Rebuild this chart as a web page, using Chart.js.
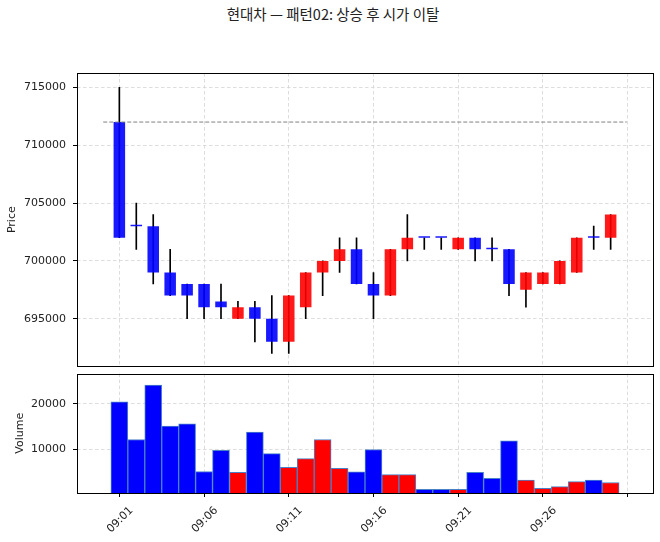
<!DOCTYPE html>
<html><head><meta charset="utf-8">
<script src="https://cdn.jsdelivr.net/npm/chart.js@4.4.0/dist/chart.umd.min.js"></script>
<style>
html,body{margin:0;padding:0;background:#fff;}
#wrap{position:relative;width:660px;height:542px;overflow:hidden;background:#fff;}
#title{position:absolute;left:0;width:666px;top:3px;text-align:center;font-family:'Noto Sans CJK KR','Noto Sans',sans-serif;font-size:14.5px;color:#222;}
#c1{position:absolute;left:0;top:0;}
#c2{position:absolute;left:0;top:360px;}
</style></head><body>
<div id="wrap">
<div id="title">현대차 — 패턴02: 상승 후 시가 이탈</div>
<canvas id="c1" width="660" height="380" style="width:660px;height:380px"></canvas>
<canvas id="c2" width="660" height="182" style="width:660px;height:182px"></canvas>
</div>
<script>
const times = ['09:01','09:02','09:03','09:04','09:05','09:06','09:07','09:08','09:09','09:10',
               '09:11','09:12','09:13','09:14','09:15','09:16','09:17','09:18','09:19','09:20',
               '09:21','09:22','09:23','09:24','09:25','09:26','09:27','09:28','09:29','09:30'];
const opens  = [712000,703000,703000,699000,698000,698000,696500,695000,696000,695000,
                693000,696000,699000,700000,701000,698000,697000,701000,702000,702000,
                701000,702000,701000,701000,697500,698000,698000,699000,702000,702000];
const highs  = [715000,705000,704000,701000,698000,698000,698000,696500,696500,697000,
                697000,699000,700000,702000,702000,699000,701000,704000,702000,702000,
                702000,702000,702000,701000,699000,699000,700000,702000,703000,704000];
const lows   = [702000,701000,698000,697000,695000,695000,695000,695000,693000,692000,
                692000,695000,697000,699000,698000,695000,697000,700000,701000,701000,
                701000,700000,700000,697000,696000,698000,698000,699000,701000,701000];
const closes = [702000,703000,699000,697000,697000,696000,696000,696000,695000,693000,
                697000,699000,700000,701000,698000,697000,701000,702000,702000,702000,
                702000,701000,701000,698000,699000,699000,700000,702000,702000,704000];
const volumes = [20400,12200,24100,15100,15600,5200,9800,5000,13800,9100,
                 6100,8000,12200,5900,5100,10000,4500,4500,1300,1300,
                 1300,5000,3700,11900,3300,1500,1900,3000,3300,2800];
const priceTicks = [695000,700000,705000,710000,715000];
const volumeTicks = [10000,20000];
const xTickIdx = [0,5,10,15,20,25,30];
const refLevel = opens[0];
const refSpan = [-0.95, 29.95];

const FONT = "'DejaVu Sans','Noto Sans CJK KR',sans-serif";
Chart.defaults.font.family = FONT;
Chart.defaults.font.size = 11;
Chart.defaults.color = '#222';

const up = closes.map((c,i)=>c>opens[i]);
const bodyCol = up.map(u=>u?'rgba(255,0,0,0.9)':'rgba(0,0,255,0.9)');
const volCol = up.map(u=>u?'#ff0000':'#0000ff');
const idx = times.map((_,i)=>i);

const frame = {id:'frame', afterDraw(c){const a=c.chartArea,ctx=c.ctx;ctx.save();ctx.strokeStyle='#000';ctx.lineWidth=1;
  ctx.strokeRect(Math.round(a.left)+0.5,Math.round(a.top)+0.5,Math.round(a.right-a.left),Math.round(a.bottom-a.top));ctx.restore();}};

const gridCommon = {color:'#d4d4d4', lineWidth:0.8, tickColor:'#000', tickWidth:1, tickBorderDash:[], tickLength:4, offset:false};
const borderCommon = {display:false, dash:[3.5,2.5]};

const xScale = (showLabels) => ({
  type:'linear', min:-2.5, max:31.5, offset:false,
  afterBuildTicks(s){ s.ticks = xTickIdx.map(v=>({value:v})); },
  afterFit(s){ s.height = showLabels ? 49 : 0; },
  grid: Object.assign({}, gridCommon, {drawTicks: showLabels}),
  border: borderCommon,
  ticks: showLabels ? {display:true, autoSkip:false, maxRotation:45, minRotation:45, labelOffset:12, padding:7,
           callback:(v)=> times[v] !== undefined ? times[v] : ''} : {display:false}
});

new Chart(document.getElementById('c1'), {
  data:{datasets:[
    {type:'line', data:[{x:refSpan[0],y:refLevel},{x:refSpan[1],y:refLevel}], borderColor:'#808080',
     borderWidth:1, borderDash:[4,2], pointRadius:0, order:0},
    {type:'bar', data: idx.map(i=>({x:i, y:[opens[i], closes[i]]})), backgroundColor:bodyCol, borderColor:bodyCol,
     borderWidth:0, barPercentage:0.68, categoryPercentage:1, minBarLength:1.5, grouped:false, order:1},
    {type:'bar', data: idx.map(i=>({x:i, y:[lows[i], highs[i]]})), backgroundColor:'#000', barThickness:1,
     grouped:false, order:2}
  ]},
  options:{
    responsive:false, animation:false, devicePixelRatio:1,
    layout:{padding:{top:73,bottom:7,left:0,right:7}},
    plugins:{legend:{display:false}, tooltip:{enabled:false}},
    scales:{
      x: xScale(false),
      y:{type:'linear', min:690880, max:716240,
         afterBuildTicks(s){ s.ticks = priceTicks.map(v=>({value:v})); },
         afterFit(s){ s.width = 77; },
         grid: gridCommon, border: borderCommon,
         ticks:{padding:7, callback:(v)=>String(v)},
         title:{display:true, text:'Price', font:{size:11}, padding:{top:6,bottom:0}}
      }
    }
  },
  plugins:[frame]
});

new Chart(document.getElementById('c2'), {
  data:{datasets:[
    {type:'bar', data: idx.map(i=>({x:i, y:volumes[i]})), backgroundColor:volCol, borderColor:'#4a82c8',
     borderWidth:1, barPercentage:1, categoryPercentage:1, grouped:false}
  ]},
  options:{
    responsive:false, animation:false, devicePixelRatio:1,
    layout:{padding:{top:13,bottom:0,left:0,right:7}},
    plugins:{legend:{display:false}, tooltip:{enabled:false}},
    scales:{
      x: xScale(true),
      y:{type:'linear', min:500, max:26590,
         afterBuildTicks(s){ s.ticks = volumeTicks.map(v=>({value:v})); },
         afterFit(s){ s.width = 77; },
         grid: gridCommon, border: borderCommon,
         ticks:{padding:7, callback:(v)=>String(v)},
         title:{display:true, text:'Volume', font:{size:11}, padding:{top:14,bottom:0}}
      }
    }
  },
  plugins:[frame]
});
</script>
</body></html>
